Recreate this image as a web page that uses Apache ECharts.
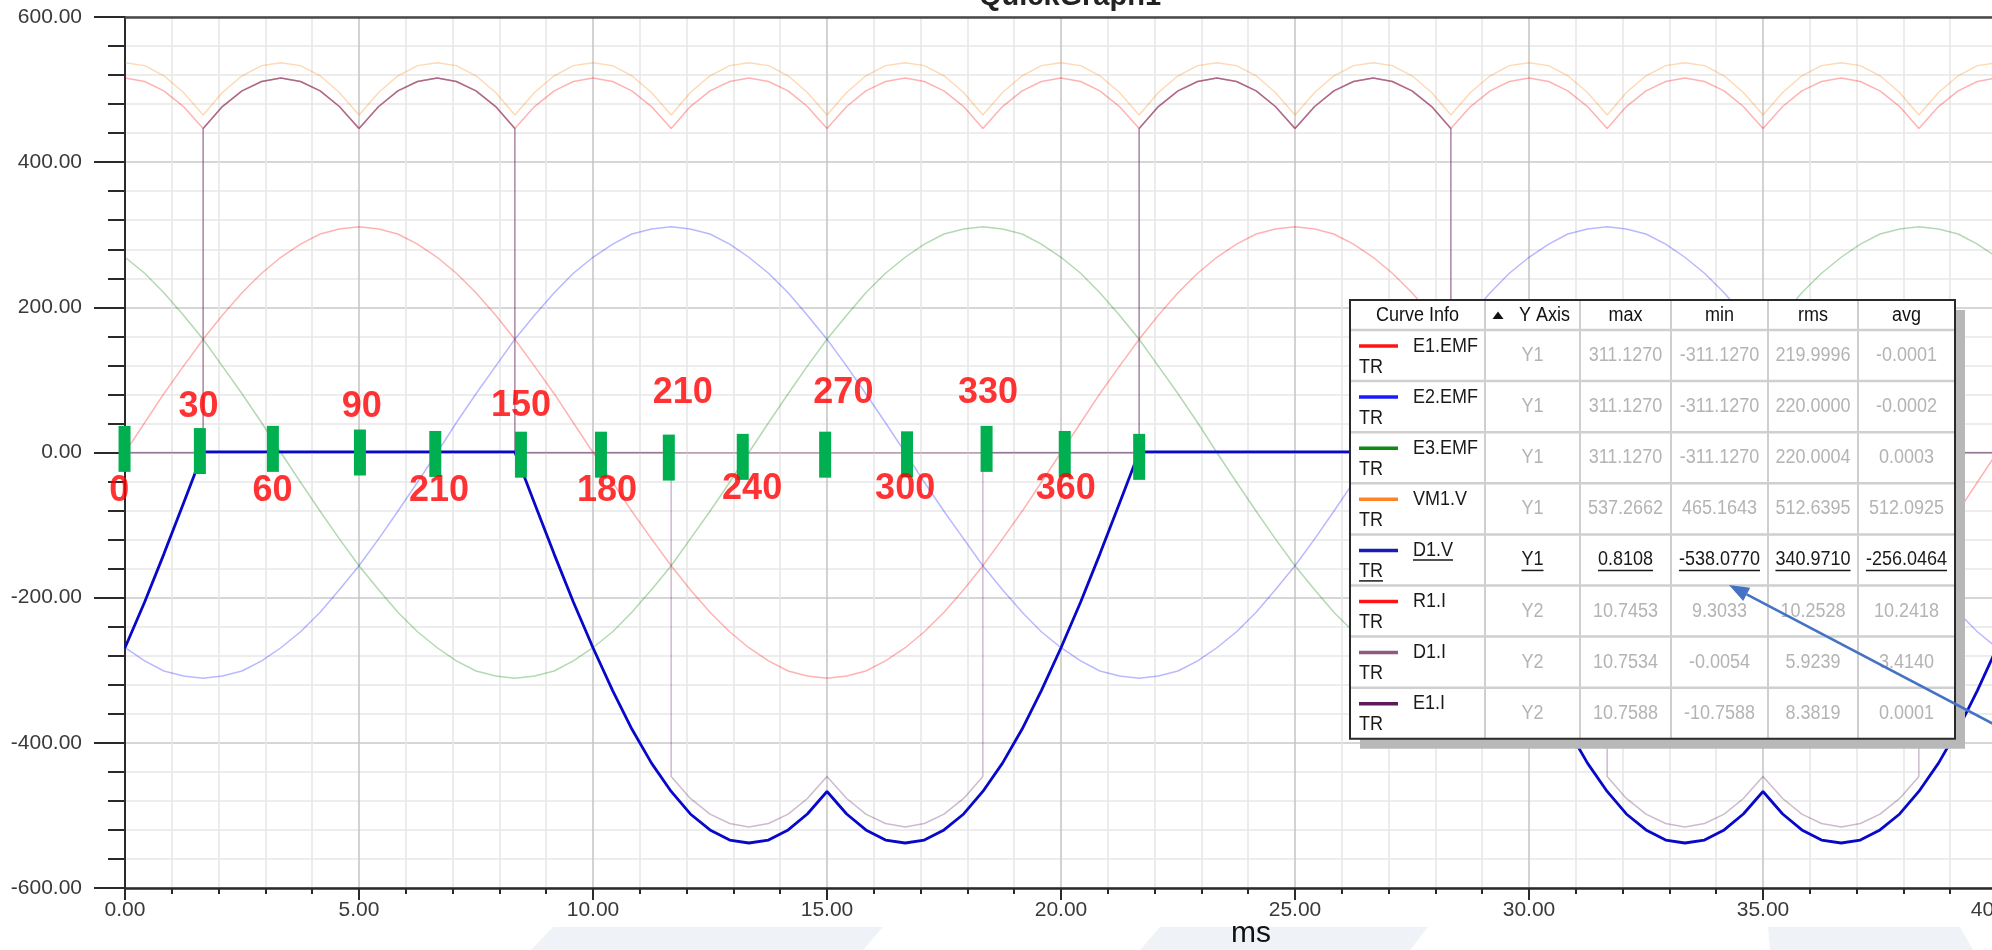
<!DOCTYPE html>
<html><head><meta charset="utf-8">
<script src="https://cdn.jsdelivr.net/npm/echarts@6/dist/echarts.min.js"></script>
<style>html,body{margin:0;padding:0;background:#fff;overflow:hidden}#c{width:1992px;height:950px}</style>
</head><body><div id="c"></div>
<script>
// ---- time axis samples (ms) ----
const times = [0,0.42,0.83,1.25,1.67,2.08,2.5,2.92,3.33,3.75,4.17,4.58,5,5.42,5.83,6.25,6.67,7.08,7.5,7.92,8.33,8.75,9.17,9.58,10,10.42,10.83,11.25,11.67,12.08,12.5,12.92,13.33,13.75,14.17,14.58,15,15.42,15.83,16.25,16.67,17.08,17.5,17.92,18.33,18.75,19.17,19.58,
20,20.42,20.83,21.25,21.67,22.08,22.5,22.92,23.33,23.75,24.17,24.58,25,25.42,25.83,26.25,26.67,27.08,27.5,27.92,28.33,28.75,29.17,29.58,30,30.42,30.83,31.25,31.67,32.08,32.5,32.92,33.33,33.75,34.17,34.58,35,35.42,35.83,36.25,36.67,37.08,37.5,37.92,38.33,38.75,39.17,39.58,40];

// ---- Y1 series (V) ----
const e1Emf = [0,41,81,119,156,189,220,247,269,287,301,308,311,308,301,287,269,247,220,189,156,119,81,41,0,-41,-81,-119,-156,-189,-220,-247,-269,-287,-301,-308,-311,-308,-301,-287,-269,-247,-220,-189,-156,-119,-81,-41,
0,41,81,119,156,189,220,247,269,287,301,308,311,308,301,287,269,247,220,189,156,119,81,41,0,-41,-81,-119,-156,-189,-220,-247,-269,-287,-301,-308,-311,-308,-301,-287,-269,-247,-220,-189,-156,-119,-81,-41,0];
const e2Emf = [-269,-287,-301,-308,-311,-308,-301,-287,-269,-247,-220,-189,-156,-119,-81,-41,0,41,81,119,156,189,220,247,269,287,301,308,311,308,301,287,269,247,220,189,156,119,81,41,0,-41,-81,-119,-156,-189,-220,-247,
-269,-287,-301,-308,-311,-308,-301,-287,-269,-247,-220,-189,-156,-119,-81,-41,0,41,81,119,156,189,220,247,269,287,301,308,311,308,301,287,269,247,220,189,156,119,81,41,0,-41,-81,-119,-156,-189,-220,-247,-269];
const e3Emf = [269,247,220,189,156,119,81,41,0,-41,-81,-119,-156,-189,-220,-247,-269,-287,-301,-308,-311,-308,-301,-287,-269,-247,-220,-189,-156,-119,-81,-41,0,41,81,119,156,189,220,247,269,287,301,308,311,308,301,287,
269,247,220,189,156,119,81,41,0,-41,-81,-119,-156,-189,-220,-247,-269,-287,-301,-308,-311,-308,-301,-287,-269,-247,-220,-189,-156,-119,-81,-41,0,41,81,119,156,189,220,247,269,287,301,308,311,308,301,287,269];
const vm1V = [537,533,519,496,465,496,519,533,537,533,519,496,465,496,519,533,537,533,519,496,465,496,519,533,537,533,519,496,465,496,519,533,537,533,519,496,465,496,519,533,537,533,519,496,465,496,519,533,
537,533,519,496,465,496,519,533,537,533,519,496,465,496,519,533,537,533,519,496,465,496,519,533,537,533,519,496,465,496,519,533,537,533,519,496,465,496,519,533,537,533,519,496,465,496,519,533,537];
const d1V = [-269,-206,-140,-70,0.8,0.8,0.8,0.8,0.8,0.8,0.8,0.8,0.8,0.8,0.8,0.8,0.8,0.8,0.8,0.8,0.8,
-70,-140,-206,-269,-328,-381,-428,-467,-498,-520,-534,-538,-534,-520,-498,-467,-498,-520,-534,-538,-534,-520,-498,-467,-428,-381,-328,-269,-206,-140,-70,
0.8,0.8,0.8,0.8,0.8,0.8,0.8,0.8,0.8,0.8,0.8,0.8,0.8,0.8,0.8,0.8,0.8,
-70,-140,-206,-269,-328,-381,-428,-467,-498,-520,-534,-538,-534,-520,-498,-467,-498,-520,-534,-538,-534,-520,-498,-467,-428,-381,-328,-269];

// ---- Y2 series (A) ----
const r1I = [10.75,10.65,10.38,9.93,9.30,9.93,10.38,10.65,10.75,10.65,10.38,9.93,9.30,9.93,10.38,10.65,10.75,10.65,10.38,9.93,9.30,9.93,10.38,10.65,10.75,10.65,10.38,9.93,9.30,9.93,10.38,10.65,10.75,10.65,10.38,9.93,9.30,9.93,10.38,10.65,10.75,10.65,10.38,9.93,9.30,9.93,10.38,10.65,
10.75,10.65,10.38,9.93,9.30,9.93,10.38,10.65,10.75,10.65,10.38,9.93,9.30,9.93,10.38,10.65,10.75,10.65,10.38,9.93,9.30,9.93,10.38,10.65,10.75,10.65,10.38,9.93,9.30,9.93,10.38,10.65,10.75,10.65,10.38,9.93,9.30,9.93,10.38,10.65,10.75,10.65,10.38,9.93,9.30,9.93,10.38,10.65,10.75];
const d1iTime = [0,1.67,1.67,2.08,2.5,2.92,3.33,3.75,4.17,4.58,5,5.42,5.83,6.25,6.67,7.08,7.5,7.92,8.33,8.33,
21.67,21.67,22.08,22.5,22.92,23.33,23.75,24.17,24.58,25,25.42,25.83,26.25,26.67,27.08,27.5,27.92,28.33,28.33,40];
const d1iVals = [-0.005,-0.005,9.30,9.93,10.38,10.65,10.75,10.65,10.38,9.93,9.30,9.93,10.38,10.65,10.75,10.65,10.38,9.93,9.30,-0.005,
-0.005,9.30,9.93,10.38,10.65,10.75,10.65,10.38,9.93,9.30,9.93,10.38,10.65,10.75,10.65,10.38,9.93,9.30,-0.005,-0.005];
const e1iTime = [0,1.67,1.67,2.08,2.5,2.92,3.33,3.75,4.17,4.58,5,5.42,5.83,6.25,6.67,7.08,7.5,7.92,8.33,8.33,
11.67,11.67,12.08,12.5,12.92,13.33,13.75,14.17,14.58,15,15.42,15.83,16.25,16.67,17.08,17.5,17.92,18.33,18.33,
21.67,21.67,22.08,22.5,22.92,23.33,23.75,24.17,24.58,25,25.42,25.83,26.25,26.67,27.08,27.5,27.92,28.33,28.33,
31.67,31.67,32.08,32.5,32.92,33.33,33.75,34.17,34.58,35,35.42,35.83,36.25,36.67,37.08,37.5,37.92,38.33,38.33,40];
const e1iVals = [0,0,9.30,9.93,10.38,10.65,10.75,10.65,10.38,9.93,9.30,9.93,10.38,10.65,10.75,10.65,10.38,9.93,9.30,0,
0,-9.30,-9.93,-10.38,-10.65,-10.75,-10.65,-10.38,-9.93,-9.30,-9.93,-10.38,-10.65,-10.75,-10.65,-10.38,-9.93,-9.30,0,
0,9.30,9.93,10.38,10.65,10.75,10.65,10.38,9.93,9.30,9.93,10.38,10.65,10.75,10.65,10.38,9.93,9.30,0,
0,-9.30,-9.93,-10.38,-10.65,-10.75,-10.65,-10.38,-9.93,-9.30,-9.93,-10.38,-10.65,-10.75,-10.65,-10.38,-9.93,-9.30,0,0];

// ---- annotations (ms, V) ----
const markerTime = [-0.01,1.60,3.16,5.02,6.63,8.46,10.17,11.62,13.20,14.96,16.71,18.41,20.08,21.67];
const markerVal  = [5,2,5,0,-2,-3,-3,-7,-6,-3,-2.5,5,-2,-6];
const labelText = ['30','90','150','210','270','330','0','60','210','180','240','300','360'];
const labelTime = [1.57,5.06,8.46,11.92,15.35,18.44,-0.12,3.15,6.71,10.30,13.40,16.67,20.10];
const labelVal  = [62,62,64,82,82,82,-53,-53,-53,-53,-51,-51,-51];

// ---- curve info table ----
const curveNames = ['E1.EMF','E2.EMF','E3.EMF','VM1.V','D1.V','R1.I','D1.I','E1.I'];
const curveAxis  = ['Y1','Y1','Y1','Y1','Y1','Y2','Y2','Y2'];
const curveMax = ['311.1270','311.1270','311.1270','537.2662','0.8108','10.7453','10.7534','10.7588'];
const curveMin = ['-311.1270','-311.1270','-311.1270','465.1643','-538.0770','9.3033','-0.0054','-10.7588'];
const curveRms = ['219.9996','220.0000','220.0004','512.6395','340.9710','10.2528','5.9239','8.3819'];
const curveAvg = ['-0.0001','-0.0002','0.0003','512.0925','-256.0464','10.2418','3.4140','0.0001'];
const tableHeaders = ['Curve Info','Y Axis','max','min','rms','avg'];
const activeRow = 4;

const xTicks = {min:0, max:40, interval:5};
const yTicks = {min:-600, max:600, interval:200};

// ================= rendering =================
const FONT = '"Liberation Sans", Arial, sans-serif';
const pair = (ts, vs) => ts.map((t, i) => [t, vs[i]]);
const colors = {e1:'#ff0000', e2:'#0000ff', e3:'#008000', vm1:'#ff8000', d1v:'#0808c8', r1i:'#ff0000', d1i:'#8b4f7b', e1i:'#5a1a5a'};
const sampleColors = ['#ff1414','#1a1aff','#118a11','#ff8426','#1a1ab4','#ff1414','#8e5a80','#5c1a5c'];

function faint(name, data, color, op, yIdx) {
  return {name, type:'line', data, yAxisIndex:yIdx||0, symbol:'none', silent:true, z:2,
    lineStyle:{color, width:1.5, opacity:op}, animation:false};
}

const series = [
  faint('E1.EMF', pair(times, e1Emf), colors.e1, 0.3),
  faint('E2.EMF', pair(times, e2Emf), colors.e2, 0.28),
  faint('E3.EMF', pair(times, e3Emf), colors.e3, 0.3),
  faint('VM1.V', pair(times, vm1V), colors.vm1, 0.3),
  faint('R1.I', pair(times, r1I), colors.r1i, 0.3, 1),
  faint('D1.I', pair(d1iTime, d1iVals), colors.d1i, 0.4, 1),
  faint('E1.I', pair(e1iTime, e1iVals), colors.e1i, 0.3, 1),
  {name:'D1.V', type:'line', data:pair(times, d1V), symbol:'none', silent:true, z:3,
    lineStyle:{color:colors.d1v, width:2.8}, animation:false},
  {name:'markers', type:'scatter', data:pair(markerTime, markerVal), symbol:'rect', symbolSize:[12,46],
    clip:false, itemStyle:{color:'#00b050', opacity:1}, z:5, silent:true, animation:false},
  {name:'labels', type:'scatter', symbolSize:1, z:6, silent:true, animation:false, clip:false,
    itemStyle:{color:'rgba(0,0,0,0)'},
    data: labelText.map((t, i) => ({name:t, value:[labelTime[i], labelVal[i]]})),
    label:{show:true, position:'inside', formatter:p => p.name, color:'#ff0000',
      fontFamily:FONT, fontWeight:'bold', fontSize:36}}
];

// ---- graphic: table, arrow, title, axis name, background shapes ----
const ctx = document.createElement('canvas').getContext('2d');
function tw(text, font) { ctx.font = font; return ctx.measureText(text).width; }
const TF = '20px ' + FONT;
const SX = 0.9; // narrow table font
const T = {x0:1350, y0:300, hdrH:30, rowH:51.1, cols:[1350,1485,1580,1671,1768,1858,1955]};
const tblW = T.cols[6] - T.cols[0];
const tblH = T.hdrH + 8 * T.rowH;
const colC = i => (T.cols[i] + T.cols[i + 1]) / 2;
const els = [];
function txt(x, y, text, fill, align, font, z, sx) {
  els.push({type:'text', x, y, z:z||110, silent:true, scaleX:sx||1,
    style:{text, fill, font:font||TF, align:align||'center', verticalAlign:'middle',
      textAlign:align||'center', textVerticalAlign:'middle'}});
}
function ln(x1, y1, x2, y2, stroke, w, z) {
  els.push({type:'line', z:z||105, silent:true, shape:{x1, y1, x2, y2}, style:{stroke, lineWidth:w}});
}
// background decoration at bottom
[[[553,927],[883,927],[863,950],[531,950]],[[1160,927],[1428,927],[1410,950],[1140,950]],[[1768,927],[1960,927],[1973,950],[1770,950]]]
  .forEach(p => els.push({type:'polygon', z:0, silent:true, shape:{points:p}, style:{fill:'#eff3f8'}}));
// title (cut at top) and axis name
txt(1070, -3, 'QuickGraph1', '#222', 'center', 'bold 29px ' + FONT, 10);
txt(1251, 934, 'ms', '#111', 'center', '30px ' + FONT, 10);
// shadow + body
els.push({type:'rect', z:100, silent:true, shape:{x:T.x0 + 10, y:T.y0 + 10, width:tblW, height:tblH}, style:{fill:'#b8b8b8'}});
els.push({type:'rect', z:101, silent:true, shape:{x:T.x0, y:T.y0, width:tblW, height:tblH}, style:{fill:'#ffffff'}});
for (let i = 1; i < 6; i++) ln(T.cols[i], T.y0, T.cols[i], T.y0 + tblH, '#cfcfcf', 2);
for (let r = 0; r < 8; r++) ln(T.x0, T.y0 + T.hdrH + r * T.rowH, T.cols[6], T.y0 + T.hdrH + r * T.rowH, '#cfcfcf', 2.5);
els.push({type:'rect', z:106, silent:true, shape:{x:T.x0, y:T.y0, width:tblW, height:tblH}, style:{fill:'none', stroke:'#2a2a2a', lineWidth:2}});
// header
const hy = T.y0 + T.hdrH / 2;
txt(colC(0), hy, tableHeaders[0], '#111', 'center', TF, 110, SX);
els.push({type:'polygon', z:110, silent:true, shape:{points:[[1492.5,319],[1503.5,319],[1498,311.5]]}, style:{fill:'#111'}});
txt(1519, hy, tableHeaders[1], '#111', 'left', TF, 110, SX);
for (let c = 2; c < 6; c++) txt(colC(c), hy, tableHeaders[c], '#111', 'center', TF, 110, SX);
// rows
curveNames.forEach((nm, r) => {
  const top = T.y0 + T.hdrH + r * T.rowH;
  const act = r === activeRow;
  const vcol = act ? '#1a1a1a' : '#b4b4b4';
  ln(1359, top + 16, 1398, top + 16, sampleColors[r], 3.5, 108);
  txt(1413, top + 16, nm, '#1a1a1a', 'left', TF, 110, SX);
  txt(1359, top + 37, 'TR', '#1a1a1a', 'left', TF, 110, SX);
  const cy = top + T.rowH / 2;
  const cells = [curveAxis[r], curveMax[r], curveMin[r], curveRms[r], curveAvg[r]];
  cells.forEach((s, k) => {
    txt(colC(k + 1), cy, s, vcol, 'center', TF, 110, SX);
    if (act) { const w = tw(s, TF) * SX; ln(colC(k + 1) - w / 2, cy + 10.5, colC(k + 1) + w / 2, cy + 10.5, '#1a1a1a', 1.5, 110); }
  });
  if (act) {
    const w1 = tw(nm, TF) * SX; ln(1413, top + 25.5, 1413 + w1, top + 25.5, '#1a1a1a', 1.5, 110);
    const w2 = tw('TR', TF) * SX; ln(1359, top + 46.5, 1359 + w2, top + 46.5, '#1a1a1a', 1.5, 110);
  }
});
// arrow pointing at min value
ln(1746.7, 594.3, 2100, 780, '#4472c4', 2.5, 120);
els.push({type:'polygon', z:121, silent:true, shape:{points:[[1729,585],[1743.2,600.9],[1750.2,587.7]]}, style:{fill:'#4472c4'}});

const fmt = v => v.toFixed(2);
const option = {
  animation:false,
  backgroundColor:'#ffffff',
  grid:{left:125, top:17, right:-5, bottom:62, containLabel:false, outerBoundsMode:'none'},
  xAxis:[
    {type:'value', position:'bottom', min:xTicks.min, max:xTicks.max, interval:xTicks.interval,
      axisLine:{onZero:false, lineStyle:{color:'#2a2a2a', width:2.5}},
      axisTick:{show:true, length:12, lineStyle:{color:'#2a2a2a', width:2}},
      minorTick:{show:true, splitNumber:5, length:6, lineStyle:{color:'#2a2a2a', width:2}},
      axisLabel:{formatter:fmt, fontSize:21, fontFamily:FONT, color:'#3a3a3a', margin:12},
      splitLine:{show:true, lineStyle:{color:'#c4c4c4', width:1.5}},
      minorSplitLine:{show:true, lineStyle:{color:'#e6e6e6', width:1.5}}},
    {type:'value', position:'top', min:xTicks.min, max:xTicks.max,
      axisLine:{show:true, onZero:false, lineStyle:{color:'#4a4a4a', width:2.5}},
      axisTick:{show:false}, axisLabel:{show:false}, splitLine:{show:false}}
  ],
  yAxis:[
    {type:'value', position:'left', min:yTicks.min, max:yTicks.max, interval:yTicks.interval,
      axisLine:{show:true, onZero:false, lineStyle:{color:'#2a2a2a', width:2}},
      axisTick:{show:true, length:31, lineStyle:{color:'#2a2a2a', width:2}},
      minorTick:{show:true, splitNumber:5, length:17, lineStyle:{color:'#2a2a2a', width:2}},
      axisLabel:{formatter:fmt, fontSize:21, fontFamily:FONT, color:'#3a3a3a', margin:43},
      splitLine:{show:true, lineStyle:{color:'#c8c8c8', width:1.5}},
      minorSplitLine:{show:true, lineStyle:{color:'#e8e8e8', width:1.5}}},
    {type:'value', position:'right', min:-12.5, max:12.5, show:false, splitLine:{show:false}}
  ],
  series,
  graphic:{elements:els}
};
const chart = echarts.init(document.getElementById('c'), null, {renderer:'canvas', width:1992, height:950});
chart.setOption(option);
</script></body></html>
